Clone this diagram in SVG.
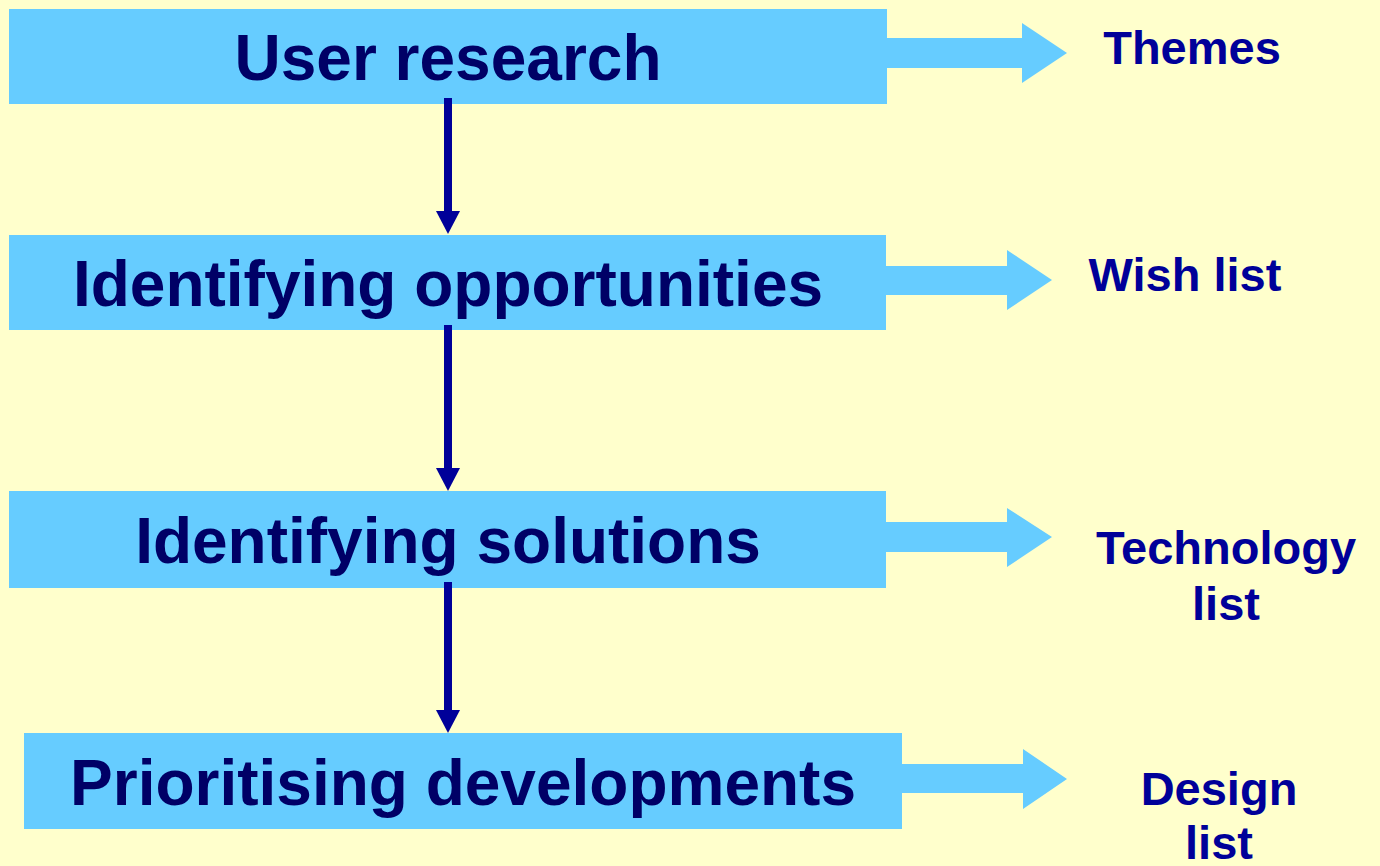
<svg xmlns="http://www.w3.org/2000/svg" width="1380" height="866" viewBox="0 0 1380 866">
<style>
.box{fill:#66CCFF}
.main{font-family:"Liberation Sans",Arial,sans-serif;font-weight:bold;font-size:64px;fill:#000066;text-anchor:middle}
.side{font-family:"Liberation Sans",Arial,sans-serif;font-weight:bold;font-size:47px;fill:#000099;text-anchor:middle}
.fat{fill:#66CCFF}
.down{stroke:#000099;stroke-width:8;fill:none}
.head{fill:#000099}
</style>
<rect width="1380" height="866" fill="#FFFFCC"/>
<g id="n1">
  <rect class="box" x="9" y="9" width="878" height="95"/>
  <text class="main" x="448" y="80">User research</text>
</g>
<g id="n2">
  <rect class="box" x="9" y="235" width="877" height="95"/>
  <text class="main" x="448" y="306">Identifying opportunities</text>
</g>
<g id="n3">
  <rect class="box" x="9" y="491" width="877" height="97"/>
  <text class="main" x="448" y="563">Identifying solutions</text>
</g>
<g id="n4">
  <rect class="box" x="24" y="733" width="878" height="96"/>
  <text class="main" x="463" y="805">Prioritising developments</text>
</g>
<g id="connectors">
  <line class="down" x1="448" y1="98" x2="448" y2="213"/>
  <polygon class="head" points="436,211 460,211 448,234"/>
  <line class="down" x1="448" y1="325" x2="448" y2="470"/>
  <polygon class="head" points="436,468 460,468 448,491"/>
  <line class="down" x1="448" y1="582" x2="448" y2="712"/>
  <polygon class="head" points="436,710 460,710 448,733"/>
  <polygon class="fat" points="886,38 1022,38 1022,23 1067,53 1022,83 1022,68 886,68"/>
  <polygon class="fat" points="886,266 1007,266 1007,250 1052,280 1007,310 1007,295 886,295"/>
  <polygon class="fat" points="886,522 1007,522 1007,508 1052,537 1007,567 1007,552 886,552"/>
  <polygon class="fat" points="902,764 1023,764 1023,749 1067,779 1023,809 1023,793 902,793"/>
</g>
<g id="l1"><text class="side" x="1192" y="64">Themes</text></g>
<g id="l2"><text class="side" x="1185" y="291">Wish list</text></g>
<g id="l3"><text class="side" x="1226" y="564">Technology</text><text class="side" x="1226" y="620">list</text></g>
<g id="l4"><text class="side" x="1219" y="805">Design</text><text class="side" x="1219" y="859">list</text></g>
</svg>
